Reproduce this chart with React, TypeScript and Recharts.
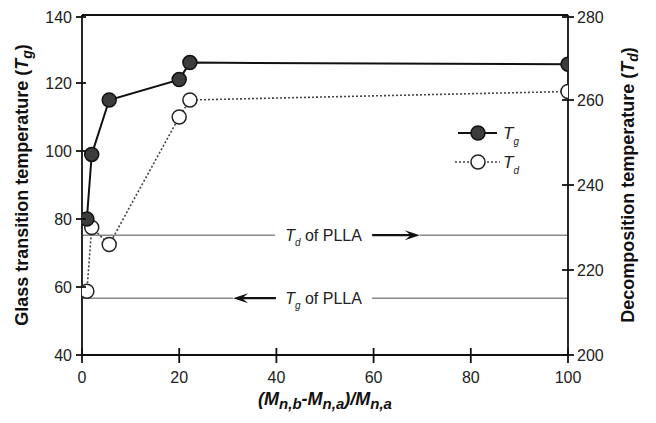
import { ComposedChart, Line, XAxis, YAxis, ReferenceLine, Customized } from "recharts";

// (Mn,b - Mn,a)/Mn,a
const ratio = [1, 2, 5.6, 20, 22.2, 100];
// glass transition temperature, left axis
const tgValues = [80, 99, 115, 121, 126, 125.5];
// decomposition temperature, right axis
const tdValues = [215, 230, 226, 256, 260, 262];

const xTicks = [0, 20, 40, 60, 80, 100];
const leftTicks = [40, 60, 80, 100, 120, 140];
const rightTicks = [200, 220, 240, 260, 280];

const tgPlla = 56.7;
const tdPlla = 228.2;

const data = ratio.map((r, i) => ({ r, tg: tgValues[i], td: tdValues[i] }));

const FONT = "'Liberation Sans', Arial, sans-serif";
const W = 640;
const H = 407;
const PL = 74; // plot left
const PR = 560; // plot right
const PT = 7;
const PB = 347;

const LeftTick = ({ y, payload }: any) => (
  <g>
    <line x1={PL - 6} x2={PL + 4} y1={y} y2={y} stroke="#111" strokeWidth={1.8} />
    <text x={PL - 10} y={y + 6} textAnchor="end" fontFamily={FONT} fontSize={16} fill="#222">
      {payload.value}
    </text>
  </g>
);

const RightTick = ({ y, payload }: any) => (
  <g>
    <line x1={PR - 6} x2={PR + 6} y1={y} y2={y} stroke="#111" strokeWidth={1.8} />
    <text x={PR + 9} y={y + 6} textAnchor="start" fontFamily={FONT} fontSize={16} fill="#222">
      {payload.value}
    </text>
  </g>
);

const BottomTick = ({ x, payload }: any) => (
  <g>
    <line x1={x} x2={x} y1={PB - 7} y2={PB + 8} stroke="#111" strokeWidth={1.8} />
    <text x={x} y={PB + 28} textAnchor="middle" fontFamily={FONT} fontSize={16} fill="#222">
      {payload.value}
    </text>
  </g>
);

const FilledDot = (p: any) => (
  <circle key={p.index} cx={p.cx} cy={p.cy} r={7} fill="#3c3c3c" stroke="#111" strokeWidth={1.5} />
);
const OpenDot = (p: any) => (
  <circle key={p.index} cx={p.cx} cy={p.cy} r={7} fill="#fff" stroke="#222" strokeWidth={1.5} />
);

const Arrow = ({ x1, y1, x2, y2 }: any) => {
  const dir = x2 > x1 ? 1 : -1;
  return (
    <g>
      <line x1={x1} y1={y1} x2={x2 - dir * 8} y2={y2} stroke="#111" strokeWidth={2.2} />
      <polygon
        points={`${x2},${y2} ${x2 - dir * 15},${y2 - 5} ${x2 - dir * 9},${y2} ${x2 - dir * 15},${y2 + 5}`}
        fill="#111"
      />
    </g>
  );
};

const PllaText = (sub: string) => ({ x1, x2, y1 }: any) => (
  <text x={(x1 + x2) / 2} y={y1 + 6} textAnchor="middle" fontFamily={FONT} fontSize={16} fill="#222">
    <tspan fontStyle="italic">T</tspan>
    <tspan fontStyle="italic" fontSize={10} dy={5}>{sub}</tspan>
    <tspan dy={-5}> of PLLA</tspan>
  </text>
);

const Annotations = () => (
  <g fontFamily={FONT}>
    <text transform="translate(20,177) rotate(-90)" textAnchor="middle" fontSize={18} fontWeight="bold" fill="#111">
      Glass transition temperature (<tspan fontStyle="italic">T</tspan>
      <tspan fontStyle="italic" fontSize={14} dy={4}>g</tspan>
      <tspan dy={-4}>)</tspan>
    </text>
    <text transform="translate(626,177) rotate(-90)" textAnchor="middle" fontSize={18} fontWeight="bold" fill="#111">
      Decomposition temperature (<tspan fontStyle="italic">T</tspan>
      <tspan fontStyle="italic" fontSize={14} dy={4}>d</tspan>
      <tspan dy={-4}>)</tspan>
    </text>
    <text x={317} y={397} textAnchor="middle" fontSize={18} fontWeight="bold" fontStyle="italic" fill="#111">
      (M<tspan dy={4} fontSize={15}>n,b</tspan>
      <tspan dy={-4}>-M</tspan>
      <tspan dy={4} fontSize={15}>n,a</tspan>
      <tspan dy={-4}>)/M</tspan>
      <tspan dy={4} fontSize={15}>n,a</tspan>
    </text>
    {/* legend */}
    <line x1={450} x2={489} y1={125} y2={125} stroke="#111" strokeWidth={2} />
    <circle cx={470} cy={125} r={7} fill="#3c3c3c" stroke="#111" strokeWidth={1.5} />
    <text x={495} y={131} fontSize={17} fontStyle="italic" fill="#222">
      T<tspan fontSize={10} dy={6}>g</tspan>
    </text>
    <line x1={447} x2={492} y1={154} y2={154} stroke="#444" strokeWidth={1.5} strokeDasharray="2 2" />
    <circle cx={470} cy={154} r={7} fill="#fff" stroke="#222" strokeWidth={1.5} />
    <text x={495} y={160} fontSize={17} fontStyle="italic" fill="#222">
      T<tspan fontSize={10} dy={6}>d</tspan>
    </text>
  </g>
);

export default function App() {
  return (
    <ComposedChart width={W} height={H} data={data} margin={{ top: PT, right: 0, bottom: 0, left: 0 }}>
      <XAxis
        dataKey="r"
        type="number"
        domain={[0, 100]}
        ticks={xTicks}
        allowDataOverflow
        height={H - PB}
        tick={<BottomTick />}
        tickLine={false}
        axisLine={{ stroke: "#111", strokeWidth: 1.8 }}
      />
      <YAxis
        yAxisId="left"
        domain={[40, 140]}
        ticks={leftTicks}
        width={PL}
        tick={<LeftTick />}
        tickLine={false}
        axisLine={{ stroke: "#111", strokeWidth: 1.8 }}
      />
      <YAxis
        yAxisId="right"
        orientation="right"
        domain={[200, 280]}
        ticks={rightTicks}
        width={W - PR}
        tick={<RightTick />}
        tickLine={false}
        axisLine={{ stroke: "#111", strokeWidth: 1.8 }}
      />
      <ReferenceLine yAxisId="left" y={140} stroke="#111" strokeWidth={1.8} />

      {/* Td of PLLA */}
      <ReferenceLine yAxisId="right" segment={[{ x: 0, y: tdPlla }, { x: 39.7, y: tdPlla }]} stroke="#8a8a8a" strokeWidth={1.5} />
      <ReferenceLine yAxisId="right" segment={[{ x: 39.7, y: tdPlla }, { x: 59.7, y: tdPlla }]} shape={PllaText("d")} />
      <ReferenceLine yAxisId="right" segment={[{ x: 59.7, y: tdPlla }, { x: 69.5, y: tdPlla }]} shape={Arrow} />
      <ReferenceLine yAxisId="right" segment={[{ x: 69.5, y: tdPlla }, { x: 100, y: tdPlla }]} stroke="#8a8a8a" strokeWidth={1.5} />

      {/* Tg of PLLA */}
      <ReferenceLine yAxisId="left" segment={[{ x: 0, y: tgPlla }, { x: 31.1, y: tgPlla }]} stroke="#8a8a8a" strokeWidth={1.5} />
      <ReferenceLine yAxisId="left" segment={[{ x: 39.9, y: tgPlla }, { x: 31.1, y: tgPlla }]} shape={Arrow} />
      <ReferenceLine yAxisId="left" segment={[{ x: 39.7, y: tgPlla }, { x: 59.7, y: tgPlla }]} shape={PllaText("g")} />
      <ReferenceLine yAxisId="left" segment={[{ x: 59.7, y: tgPlla }, { x: 100, y: tgPlla }]} stroke="#8a8a8a" strokeWidth={1.5} />

      <Line
        yAxisId="right"
        dataKey="td"
        stroke="#444"
        strokeWidth={1.6}
        strokeDasharray="2 2"
        dot={OpenDot}
        isAnimationActive={false}
      />
      <Line
        yAxisId="left"
        dataKey="tg"
        stroke="#111"
        strokeWidth={2}
        dot={FilledDot}
        isAnimationActive={false}
      />
      <Customized component={Annotations} />
    </ComposedChart>
  );
}
